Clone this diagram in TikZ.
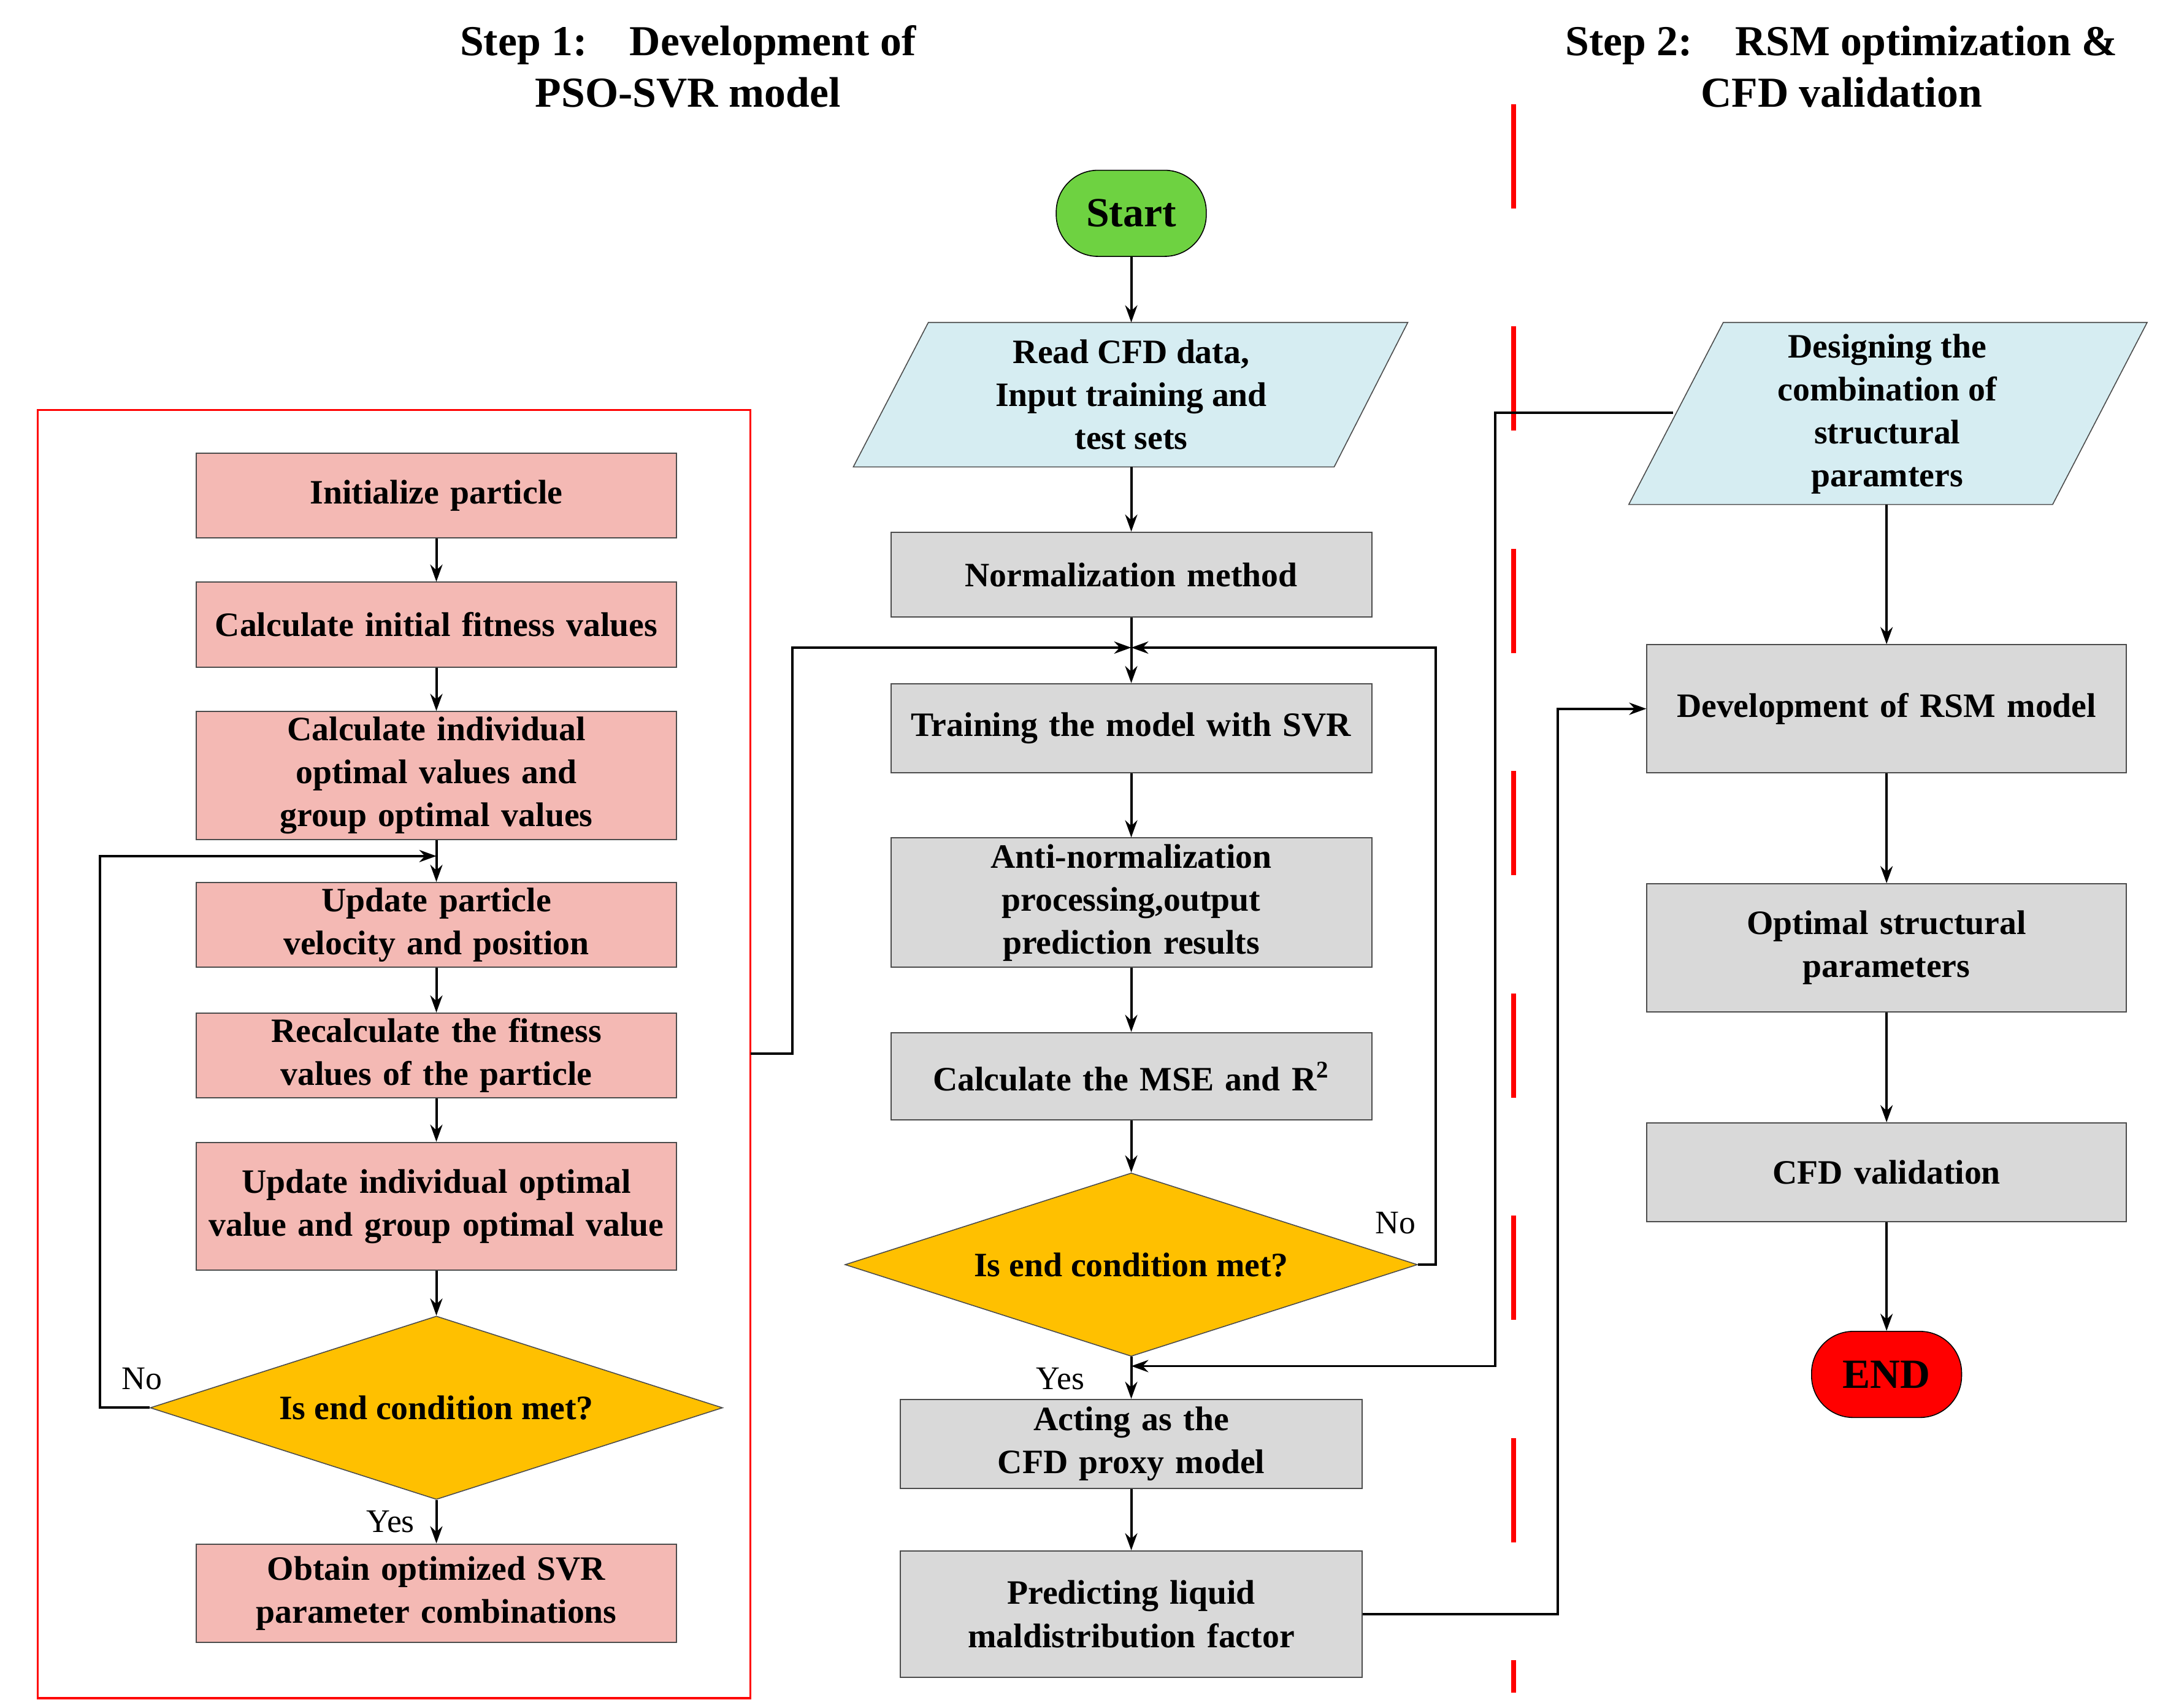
\documentclass[tikz,border=0pt]{standalone}
\usepackage{fontspec}
\setmainfont{Liberation Serif}
\usetikzlibrary{shapes.geometric,arrows.meta}
\definecolor{pinkb}{RGB}{244,185,180}
\definecolor{grayb}{RGB}{217,217,217}
\definecolor{blueb}{RGB}{214,237,242}
\definecolor{gold}{RGB}{255,192,0}
\definecolor{greenb}{RGB}{110,210,65}
\hyphenpenalty=10000 \exhyphenpenalty=10000
\begin{document}
\begin{tikzpicture}[x=0.02cm,y=-0.02cm,
  font=\fontsize{14}{17.6}\selectfont\bfseries,
  box/.style={draw=black!70,line width=0.5pt,align=center,inner sep=1pt,text width=6.7cm},
  pbox/.style={box,fill=pinkb,minimum width=6.92cm},
  gbox/.style={box,fill=grayb,minimum width=#1},
  dia/.style={draw=black!70,diamond,aspect=3.12,fill=gold,minimum width=8.24cm,minimum height=2.64cm,inner sep=0pt,align=center},
  stad/.style={draw=black,rounded corners=0.6cm,minimum width=2.16cm,minimum height=1.24cm,inner sep=0pt,font=\fontsize{17}{19}\selectfont\bfseries},
  arr/.style={-{Stealth[length=7pt,width=5pt]},line width=1pt},
  lab/.style={font=\fontsize{13.5}{15}\selectfont}]
\useasboundingbox (0,0) rectangle (1560,1229);
% titles
\node[align=center,font=\fontsize{17.5}{21}\selectfont\bfseries] (t1) at (495,48) {Step 1:\quad Development of\\PSO-SVR model};
\node[align=center,font=\fontsize{17.5}{21}\selectfont\bfseries] (t2) at (1325,48) {Step 2:\quad RSM optimization \&\\CFD validation};
% red frame
\draw[red,line width=0.8pt] (27,295) rectangle (540,1222);
\coordinate (fr) at (540,758);
% dashed separator
\draw[red,line width=2pt,dash pattern=on 1.5cm off 1.7cm] (1089,75) -- (1089,1218);
% left column
\node[pbox,minimum height=1.22cm] (l1) at (314,356.5) {Initialize particle};
\node[pbox,minimum height=1.22cm] (l2) at (314,449.5) {Calculate initial fitness values};
\node[pbox,minimum height=1.84cm] (l3) at (314,558) {Calculate individual optimal values and group optimal values};
\node[pbox,minimum height=1.22cm] (l4) at (314,665.5) {Update particle velocity and position};
\node[pbox,minimum height=1.22cm] (l5) at (314,759.5) {Recalculate the fitness values of the particle};
\node[pbox,minimum height=1.84cm] (l6) at (314,868) {Update individual optimal value and group optimal value};
\node[dia] (ld) at (314,1013) {Is end condition met?};
\node[pbox,minimum height=1.42cm] (l7) at (314,1146.5) {Obtain optimized SVR parameter combinations};
\draw[arr] (l1) -- (l2);
\draw[arr] (l2) -- (l3);
\draw[arr] (l3) -- (l4);
\draw[arr] (l4) -- (l5);
\draw[arr] (l5) -- (l6);
\draw[arr] (l6) -- (ld);
\draw[arr] (ld) -- (l7);
\node[lab] (yes1) at (281,1095) {Yes};
\coordinate (lj) at (314,616);
\draw[arr] (ld.west) -- (72,1013) -- (72,616) -- (lj);
\node[lab] (lno) at (102,992) {No};
% middle column
\node[stad,fill=greenb] (st) at (814,153.5) {Start};
\draw[draw=black!70,fill=blueb] (668,232) -- (1013,232) -- (960,336) -- (614,336) -- cycle;
\node[align=center] (rd) at (814,284) {Read CFD data,\\Input training and\\test sets};
\coordinate (rdb) at (814,336);
\coordinate (rdt) at (814,232);
\node[gbox=6.92cm,minimum height=1.22cm] (m1) at (814,413.5) {Normalization method};
\node[gbox=6.92cm,minimum height=1.28cm] (m2) at (814,524) {Training the model with SVR};
\node[gbox=6.92cm,minimum height=1.86cm] (m3) at (814,649.5) {Anti-normalization\\ processing,output prediction results};
\node[gbox=6.92cm,minimum height=1.26cm] (m4) at (814,774.5) {Calculate the MSE and R\textsuperscript{2}};
\node[dia] (md) at (814,910) {Is end condition met?};
\node[gbox=6.64cm,minimum height=1.28cm,text width=6.2cm] (m5) at (814,1039) {Acting as the\ \ CFD proxy model};
\node[gbox=6.64cm,minimum height=1.82cm,text width=6.2cm] (m6) at (814,1161.5) {Predicting liquid maldistribution factor};
\draw[arr] (st) -- (rdt);
\draw[arr] (rdb) -- (m1);
\draw[arr] (m1) -- (m2);
\draw[arr] (m2) -- (m3);
\draw[arr] (m3) -- (m4);
\draw[arr] (m4) -- (md);
\draw[arr] (md) -- (m5);
\node[lab] (yes2) at (763,992) {Yes};
\draw[arr] (m5) -- (m6);
\coordinate (mj) at (814,466);
\draw[arr] (fr) -- (570,758) -- (570,466) -- (mj);
\draw[arr] (md.east) -- (1033,910) -- (1033,466) -- (mj);
\node[lab] (no2) at (1004,880) {No};
% right column
\draw[draw=black!70,fill=blueb] (1240,232) -- (1545,232) -- (1477,363) -- (1172,363) -- cycle;
\node[align=center] (ds) at (1358,298) {Designing the\\combination of\\structural\\paramters};
\coordinate (dsb) at (1357.5,363);
\coordinate (dsl) at (1204,297);
\node[gbox=6.9cm,minimum height=1.84cm] (r1) at (1357.5,510) {Development of RSM model};
\node[gbox=6.9cm,minimum height=1.84cm,text width=5.2cm] (r2) at (1357.5,682) {Optimal structural parameters};
\node[gbox=6.9cm,minimum height=1.42cm] (r3) at (1357.5,843.5) {CFD validation};
\node[stad,fill=red] (en) at (1357.5,989) {END};
\draw[arr] (dsb) -- (r1);
\draw[arr] (r1) -- (r2);
\draw[arr] (r2) -- (r3);
\draw[arr] (r3) -- (en);
\coordinate (mj2) at (814,983);
\draw[arr] (dsl) -- (1076,297) -- (1076,983) -- (mj2);
\draw[arr] (m6.east) -- (1121,1161.5) -- (1121,510) -- (r1.west);
\end{tikzpicture}
\end{document}
